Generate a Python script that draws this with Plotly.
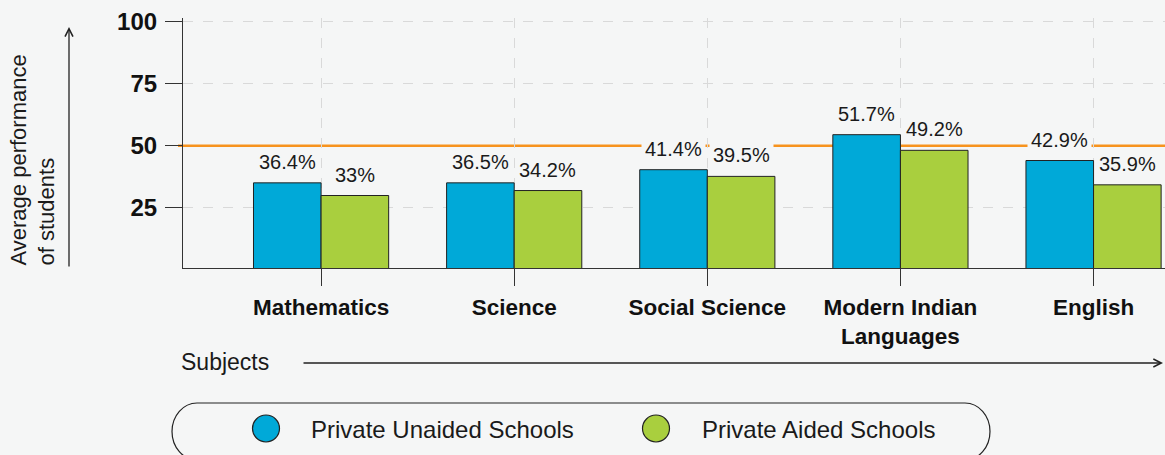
import plotly.graph_objects as go

# ---- data ----
categories = ["Mathematics", "Science", "Social Science", "Modern Indian<br>Languages", "English"]
unaided_values = [35.1, 35.1, 40.4, 54.5, 44.1]
aided_values = [30.0, 32.0, 37.7, 48.2, 34.3]
unaided_labels = ["36.4%", "36.5%", "41.4%", "51.7%", "42.9%"]
aided_labels = ["33%", "34.2%", "39.5%", "49.2%", "35.9%"]
series_names = ["Private Unaided Schools", "Private Aided Schools"]
y_ticks = [25, 50, 75, 100]
grid_ticks = [25, 75, 100]
benchmark = 50

# ---- style ----
BG = "#f5f6f6"
BLUE = "#00a9d8"
GREEN = "#a9cf3e"
ORANGE = "#f7931e"
DARK = "#222222"
FONT = "Liberation Sans"
W, H = 1165, 455
ML, MT, MB = 183, 18, 187
PW = W - ML
PH = H - MT - MB
BARGAP = 0.3
half = (1 - BARGAP) / 4  # offset of each bar centre from category centre


def px(x):
    return (x - ML) / PW


def py(y):
    return (H - MB - y) / PH


fig = go.Figure()
for name, vals, col in [(series_names[0], unaided_values, BLUE), (series_names[1], aided_values, GREEN)]:
    fig.add_trace(go.Bar(
        x=categories, y=vals, name=name, showlegend=False,
        marker=dict(color=col, line=dict(color=DARK, width=1)),
        hoverinfo="skip",
    ))

annotations = []
for i in range(len(categories)):
    for vals, labs, off in [(unaided_values, unaided_labels, -half), (aided_values, aided_labels, half)]:
        annotations.append(dict(
            x=i + off, y=vals[i], xref="x", yref="y", text=labs[i], showarrow=False,
            yanchor="bottom", xanchor="center", yshift=6, bgcolor=BG, borderpad=3,
            font=dict(family=FONT, size=20, color="#1a1a1a"),
        ))

# axis titles with arrows
annotations.append(dict(
    x=px(32), y=py(268), xref="paper", yref="paper", text="Average performance<br>of students",
    textangle=-90, align="left", xanchor="center", yanchor="bottom", showarrow=False,
    font=dict(family=FONT, size=22, color="#1a1a1a"),
))
annotations.append(dict(
    x=px(69), y=py(27), xref="paper", yref="paper", text="", showarrow=True,
    ax=0, ay=241, arrowhead=5, arrowsize=1.2, arrowwidth=1.3, arrowcolor=DARK,
))
annotations.append(dict(
    x=px(179), y=py(362), xref="paper", yref="paper", text="Subjects", showarrow=False,
    xanchor="left", yanchor="middle", font=dict(family=FONT, size=23, color="#1a1a1a"),
))
annotations.append(dict(
    x=px(1163), y=py(363), xref="paper", yref="paper", text="", showarrow=True,
    ax=-861, ay=0, arrowhead=5, arrowsize=1.2, arrowwidth=1.3, arrowcolor=DARK,
))

# legend (custom pill)
L, R, T, B = 172, 990, 403, 460
rx, ry = 25, (B - T) / 2
k = 0.5523
cy = (T + B) / 2


def P(x, y):
    return f"{px(x):.5f},{py(y):.5f}"


path = (
    f"M{P(L + rx, T)} L{P(R - rx, T)} "
    f"C{P(R - rx + k * rx, T)} {P(R, cy - k * ry)} {P(R, cy)} "
    f"C{P(R, cy + k * ry)} {P(R - rx + k * rx, B)} {P(R - rx, B)} "
    f"L{P(L + rx, B)} "
    f"C{P(L + rx - k * rx, B)} {P(L, cy + k * ry)} {P(L, cy)} "
    f"C{P(L, cy - k * ry)} {P(L + rx - k * rx, T)} {P(L + rx, T)} Z"
)
shapes = [
    dict(type="line", xref="paper", yref="y", x0=px(178), x1=1, y0=benchmark, y1=benchmark,
         line=dict(color=ORANGE, width=2.5), layer="between"),
    dict(type="path", path=path, xref="paper", yref="paper", line=dict(color=DARK, width=1.2),
         fillcolor="rgba(0,0,0,0)", layer="above"),
]
leg_items = [(266, 309, BLUE, series_names[0]), (656, 700, GREEN, series_names[1])]
for cx, tx, col, name in leg_items:
    r = 13.5
    shapes.append(dict(type="circle", xref="paper", yref="paper",
                       x0=px(cx - r), x1=px(cx + r), y0=py(428.5 + r), y1=py(428.5 - r),
                       fillcolor=col, line=dict(color=DARK, width=1.2), layer="above"))
    annotations.append(dict(
        x=px(tx), y=py(429), xref="paper", yref="paper", text=name, showarrow=False,
        xanchor="left", yanchor="middle", font=dict(family=FONT, size=24, color="#1a1a1a"),
    ))

fig.update_layout(
    width=W, height=H,
    margin=dict(l=ML, r=0, t=MT, b=MB, autoexpand=False),
    paper_bgcolor=BG, plot_bgcolor=BG,
    barmode="group", bargap=BARGAP, bargroupgap=0,
    annotations=annotations, shapes=shapes,
    xaxis=dict(
        type="category", range=[-0.715, 4.37], showgrid=True, griddash="10px,10px",
        gridcolor="#d9d9d9", gridwidth=1, showline=True, linecolor="#333333", linewidth=1.2,
        ticks="outside", ticklen=17, tickcolor="#333333", tickwidth=1.2,
        tickfont=dict(family=FONT, size=22.5, color="#111111", weight="bold"),
        ticklabelstandoff=2,
    ),
    yaxis=dict(
        range=[0.8, 101.5], tickvals=y_ticks, showgrid=False, zeroline=False, showline=True,
        linecolor="#333333", linewidth=1.2, ticks="outside", ticklen=17,
        tickcolor="#333333", tickwidth=1.2, ticklabelstandoff=3,
        tickfont=dict(family=FONT, size=24, color="#111111", weight="bold"),
        minor=dict(tickvals=grid_ticks, showgrid=True, griddash="10px,10px",
                   gridcolor="#d9d9d9", gridwidth=1, ticks=""),
    ),
)

fig.write_html(
    "out.html",
    config={"displayModeBar": False},
    post_script="document.body.style.margin='0';document.body.style.background='%s';" % BG,
)
